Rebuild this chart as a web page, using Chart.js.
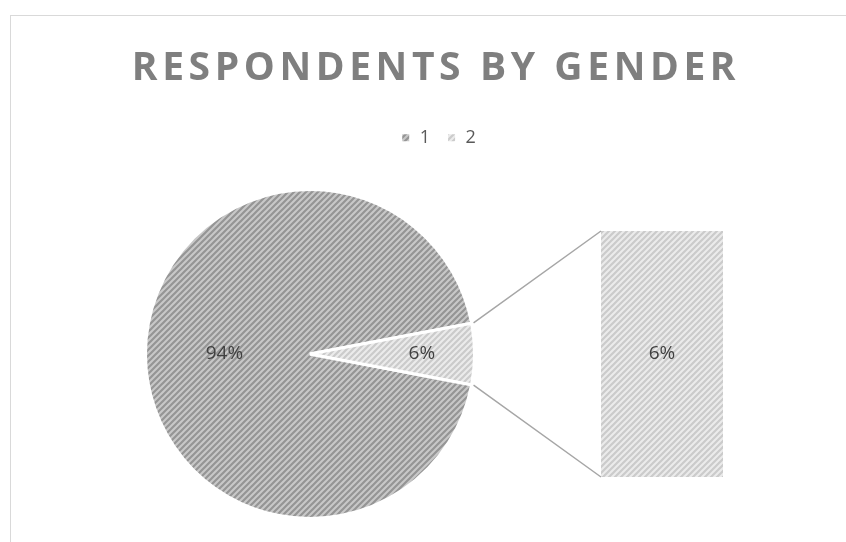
<!DOCTYPE html>
<html>
<head>
<meta charset="utf-8">
<script src="https://cdn.jsdelivr.net/npm/chart.js@4"></script>
<style>
  html, body { margin: 0; padding: 0; background: #fff; }
  #wrap { position: relative; width: 846px; height: 542px; overflow: hidden; }
  #frame { position: absolute; left: 10px; top: 15px; width: 900px; height: 600px;
           border-left: 1px solid #d9d9d9; border-top: 1px solid #d9d9d9; }
  canvas { position: absolute; left: 0; top: 0; }
</style>
</head>
<body>
<div id="wrap">
  <div id="frame"></div>
  <canvas id="pie" width="846" height="542"></canvas>
  <canvas id="bar" width="846" height="542"></canvas>
</div>
<script>
// respondents by gender (share in %)
const genderLabels = ["1", "2"];
const genderShares = [94, 6];
// the second slice is split out into the bar
const barLabels = ["2"];
const barValues = [6];

const total = genderShares.reduce((a, b) => a + b, 0);
const pct = (v) => Math.round((v / total) * 100) + "%";

// diagonal hatch like the excel fill
function stripes(bg, fg) {
  const s = 6;
  const c = document.createElement("canvas");
  c.width = s;
  c.height = s;
  const g = c.getContext("2d");
  g.fillStyle = bg;
  g.fillRect(0, 0, s, s);
  g.strokeStyle = fg;
  g.lineWidth = 2.2;
  g.beginPath();
  g.moveTo(0, s); g.lineTo(s, 0);
  g.moveTo(-1, 1); g.lineTo(1, -1);
  g.moveTo(s - 1, s + 1); g.lineTo(s + 1, s - 1);
  g.stroke();
  return g.createPattern(c, "repeat");
}

const darkFill = stripes("#c8c8c8", "#959595");
const lightFill = stripes("#ebebeb", "#cbcbcb");

// where the % labels sit, as a fraction of the radius
const labelPos = [0.52, 0.68];

// the pie sits left of the centred title, so give it its own box
const pieBox = { left: 144, top: 188, right: 476, bottom: 520 };

const pieArea = {
  id: "pieArea",
  afterLayout(chart) {
    const a = chart.chartArea;
    a.left = pieBox.left;
    a.right = pieBox.right;
    a.top = pieBox.top;
    a.bottom = pieBox.bottom;
    a.width = pieBox.right - pieBox.left;
    a.height = pieBox.bottom - pieBox.top;
  },
};

const titleSpacing = {
  id: "titleSpacing",
  beforeDraw(chart) { chart.ctx.letterSpacing = "4.6px"; },
  beforeDatasetsDraw(chart) { chart.ctx.letterSpacing = "0px"; },
};

const pieLabels = {
  id: "pieLabels",
  afterDatasetsDraw(chart) {
    const ctx = chart.ctx;
    const meta = chart.getDatasetMeta(0);
    ctx.save();
    ctx.font = "19px 'Open Sans'";
    ctx.fillStyle = "#404040";
    ctx.textAlign = "center";
    ctx.textBaseline = "middle";
    meta.data.forEach((arc, i) => {
      const p = arc.getProps(["x", "y", "startAngle", "endAngle", "outerRadius"], true);
      const mid = (p.startAngle + p.endAngle) / 2;
      const r = p.outerRadius * labelPos[i];
      ctx.fillText(pct(genderShares[i]), p.x + Math.cos(mid) * r, p.y + Math.sin(mid) * r);
    });
    ctx.restore();
  },
};

const pieChart = new Chart(document.getElementById("pie"), {
  type: "pie",
  data: {
    labels: genderLabels,
    datasets: [
      {
        data: genderShares,
        backgroundColor: [darkFill, lightFill],
        borderColor: "#ffffff",
        borderWidth: 3,
      },
    ],
  },
  options: {
    responsive: false,
    animation: false,
    rotation: 90 + ((genderShares[1] / total) * 360) / 2,
    layout: { padding: { left: 26, right: 0, top: 0, bottom: 0 } },
    plugins: {
      tooltip: { enabled: false },
      title: {
        display: true,
        text: "RESPONDENTS BY GENDER",
        color: "#7f7f7f",
        font: { family: "'Open Sans'", size: 39, weight: "bold" },
        padding: { top: 45, bottom: 25 },
      },
      legend: {
        position: "top",
        labels: {
          color: "#595959",
          font: { family: "'Open Sans'", size: 18 },
          boxWidth: 10,
          boxHeight: 10,
          padding: 12,
        },
      },
    },
  },
  plugins: [pieArea, titleSpacing, pieLabels],
});

const connectors = {
  id: "connectors",
  afterDatasetsDraw(chart) {
    const ctx = chart.ctx;
    const arc = pieChart.getDatasetMeta(0).data[1]
      .getProps(["x", "y", "startAngle", "endAngle", "outerRadius"], true);
    const bar = chart.getDatasetMeta(0).data[0]
      .getProps(["x", "y", "base", "width"], true);
    const left = bar.x - bar.width / 2;
    const r = arc.outerRadius + 2;
    ctx.save();
    ctx.strokeStyle = "#a6a6a6";
    ctx.lineWidth = 1.5;
    ctx.beginPath();
    ctx.moveTo(arc.x + Math.cos(arc.startAngle) * r, arc.y + Math.sin(arc.startAngle) * r);
    ctx.lineTo(left, Math.min(bar.y, bar.base));
    ctx.moveTo(arc.x + Math.cos(arc.endAngle) * r, arc.y + Math.sin(arc.endAngle) * r);
    ctx.lineTo(left, Math.max(bar.y, bar.base));
    ctx.stroke();

    ctx.font = "19px 'Open Sans'";
    ctx.fillStyle = "#404040";
    ctx.textAlign = "center";
    ctx.textBaseline = "middle";
    ctx.fillText(pct(barValues[0]), bar.x, (bar.y + bar.base) / 2);
    ctx.restore();
  },
};

new Chart(document.getElementById("bar"), {
  type: "bar",
  data: {
    labels: barLabels,
    datasets: [
      {
        data: barValues,
        backgroundColor: lightFill,
        borderWidth: 0,
        barPercentage: 1,
        categoryPercentage: 1,
      },
    ],
  },
  options: {
    responsive: false,
    animation: false,
    layout: { padding: { left: 601, right: 123, top: 231, bottom: 65 } },
    scales: {
      x: { display: false, stacked: true },
      y: { display: false, stacked: true, min: 0, max: barValues.reduce((a, b) => a + b, 0) },
    },
    plugins: {
      legend: { display: false },
      tooltip: { enabled: false },
      title: { display: false },
    },
  },
  plugins: [connectors],
});
</script>
</body>
</html>
